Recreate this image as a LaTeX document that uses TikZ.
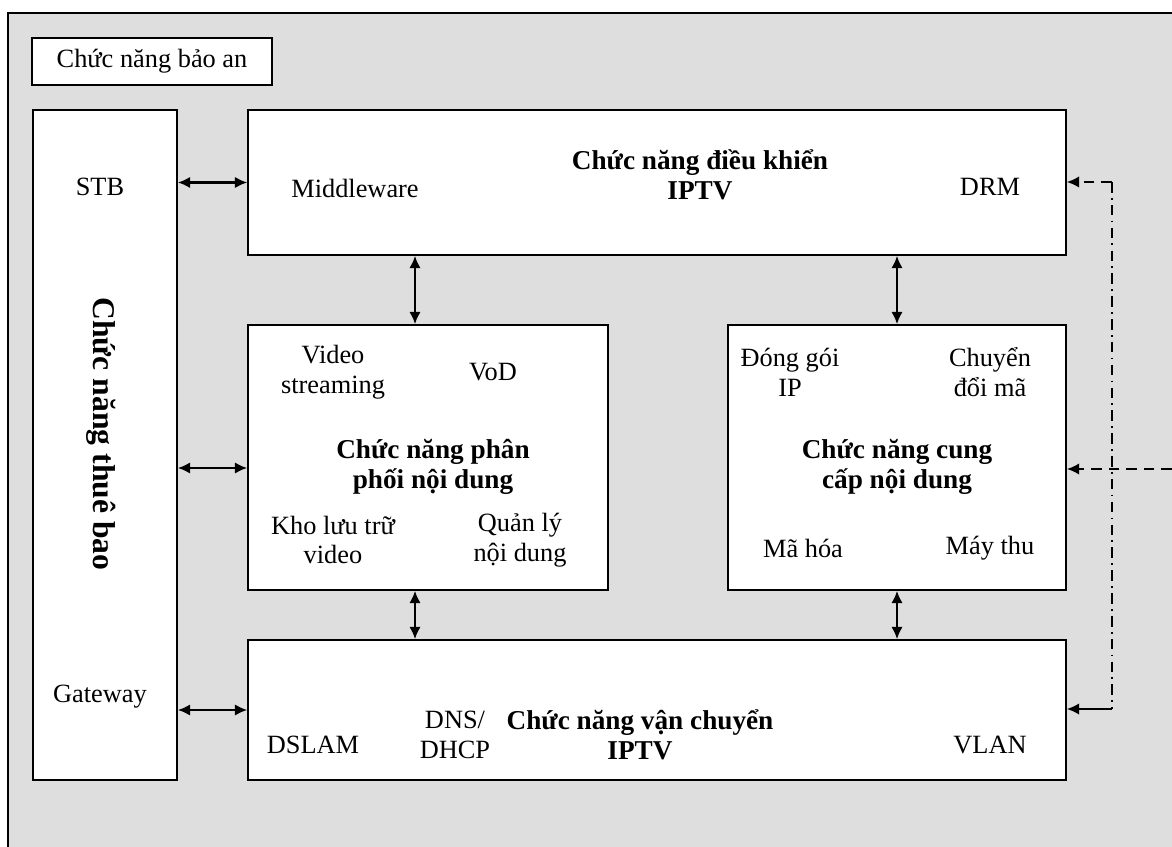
\documentclass[tikz,border=0pt]{standalone}
\usepackage{fontspec}
\setmainfont{Liberation Serif}
\usetikzlibrary{calc}
\usetikzlibrary{arrows.meta}

\definecolor{bggray}{RGB}{222,222,222}

\begin{document}
\begin{tikzpicture}[x=0.02cm, y=-0.02cm,
	box/.style={rectangle, draw, line width=1pt, fill=white, inner sep=0pt},
	lbl/.style={align=center, font=\fontsize{15}{17}\selectfont},
	ttl/.style={align=center, font=\fontsize{15.5}{17}\selectfont\bfseries},
	link/.style={line width=1.2pt, {Latex[length=7pt,width=6.5pt]}-{Latex[length=7pt,width=6.5pt]}}]

		\useasboundingbox (0,0) rectangle (1172,847);
		\fill[white] (0,0) rectangle (1172,847);
		\draw[fill=bggray, line width=1pt] (8,13) rectangle (1190,870);

		\node[box, minimum width=4.8cm, minimum height=0.94cm] (secbox) at (152,61.5) {};
		\node[lbl] (sectext) at (secbox) {Chức năng bảo an};

		\node[box, minimum width=2.88cm, minimum height=13.4cm] (sub) at (105,445) {};
		\node[box, minimum width=16.36cm, minimum height=2.9cm] (ctrl) at (657,182.5) {};
		\node[box, minimum width=7.2cm, minimum height=5.3cm] (dist) at (428,457.5) {};
		\node[box, minimum width=6.76cm, minimum height=5.3cm] (prov) at (897,457.5) {};
		\node[box, minimum width=16.36cm, minimum height=2.8cm] (trans) at (657,710) {};

		% thue bao
		\node[ttl, font=\fontsize{18}{20}\selectfont\bfseries, rotate=-90] (subtitle) at (101,434) {Chức năng thuê bao};
		\node[lbl] (stb) at (100,187) {STB};
		\node[lbl] (gw) at (100,697) {Gateway};

		% dieu khien
		\node[lbl] (mw) at (355,188) {Middleware};
		\node[ttl] (ctrltitle) at (700,175) {Chức năng điều khiển\\IPTV};
		\node[lbl] (drm) at (990,187) {DRM};

		% phan phoi
		\node[lbl] (vstream) at (333,372) {Video\\streaming};
		\node[lbl] (vod) at (493,372) {VoD};
		\node[ttl] (disttitle) at (433,467) {Chức năng phân\\phối nội dung};
		\node[lbl] (kho) at (333,540) {Kho lưu trữ\\video};
		\node[lbl] (qly) at (520,540) {Quản lý\\nội dung};

		% cung cap
		\node[lbl] (donggoi) at (790,372) {Đóng gói\\IP};
		\node[lbl] (chuyendoi) at (990,372) {Chuyển\\đổi mã};
		\node[ttl] (provtitle) at (897,467) {Chức năng cung\\cấp nội dung};
		\node[lbl] (mahoa) at (803,548) {Mã hóa};
		\node[lbl] (maythu) at (990,548) {Máy thu};

		% van chuyen
		\node[lbl] (dslam) at (313,745) {DSLAM};
		\node[lbl] (dns) at (455,735) {DNS/\\DHCP};
		\node[ttl] (transtitle) at (640,735) {Chức năng vận chuyển\\IPTV};
		\node[lbl] (vlan) at (990,745) {VLAN};

		\coordinate (dcol) at (415,0);
		\coordinate (mrow) at (0,468);
		\draw[link] (sub.east |- ctrl.west) -- (ctrl.west);
		\draw[link] (sub.east |- mrow) -- (dist.west |- mrow);
		\draw[link] (sub.east |- trans.west) -- (trans.west);
		\draw[link] (dcol |- ctrl.south) -- (dcol |- dist.north);
		\draw[link] (prov.north |- ctrl.south) -- (prov.north);
		\draw[link] (dcol |- dist.south) -- (dcol |- trans.north);
		\draw[link] (prov.south) -- (prov.south |- trans.north);

		% bao an
		\coordinate (rtop) at (1112,182);
		\coordinate (rbot) at (1112,709);
		\coordinate (rin) at (1172,469);
		\draw[line width=1.1pt, dash pattern=on 6pt off 4pt, -{Latex[length=7pt,width=6.5pt]}] (rtop) -- (ctrl.east |- rtop);
		\draw[line width=1.1pt, dash pattern=on 6pt off 3pt on 1pt off 3pt] (rtop) -- (rbot);
		\draw[line width=1.1pt, -{Latex[length=7pt,width=6.5pt]}] (rbot) -- (trans.east |- rbot);
		\draw[line width=1.1pt, dash pattern=on 6pt off 4pt, -{Latex[length=7pt,width=6.5pt]}] (rin) -- (prov.east |- rin);
    \end{tikzpicture}
\end{document}
